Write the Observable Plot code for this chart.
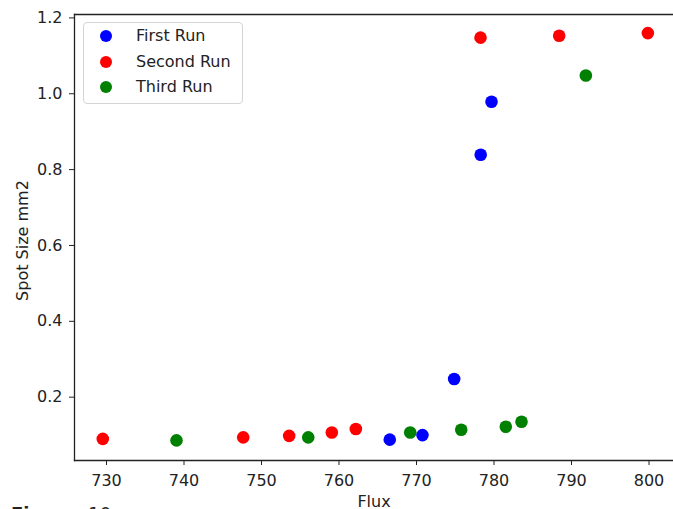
<!DOCTYPE html>
<html>
<head>
<meta charset="utf-8">
<script src="https://cdn.jsdelivr.net/npm/d3@7"></script>
<script src="https://cdn.jsdelivr.net/npm/@observablehq/plot@0.6"></script>
<style>
  html, body { margin: 0; padding: 0; background: #fff; overflow: hidden; }
  #wrap { position: relative; width: 673px; height: 509px; font-family: "DejaVu Sans", sans-serif; overflow: hidden; }
  #legend { position: absolute; left: 83px; top: 22px; width: 158px; height: 80px;
            border: 1px solid #d5d5d5; border-radius: 4px; background: rgba(255,255,255,0.8); }
  .row { position: absolute; left: 0; height: 20px; font-size: 16px; color: #222; }
  .row .dot { position: absolute; left: 16px; top: 4px; width: 12px; height: 12px; border-radius: 50%; }
  .row .lab { position: absolute; left: 52px; top: 0px; white-space: nowrap; line-height: 20px; }
  #fig { position: absolute; left: 11px; top: 503px; font-size: 18px; line-height: 22px; color: #222; white-space: nowrap; }
  #fig .num { margin-left: 12px; }
</style>
</head>
<body>
<div id="wrap"></div>
<script>
// Series names and colours
const seriesNames = ["First Run", "Second Run", "Third Run"];
const seriesColors = ["blue", "red", "green"];

// First Run
const firstFlux = [766.55, 770.77, 774.86, 778.28, 779.68];
const firstSpot = [0.088, 0.100, 0.248, 0.839, 0.979];

// Second Run
const secondFlux = [729.52, 747.64, 753.57, 759.07, 762.17, 778.26, 788.41, 799.85];
const secondSpot = [0.090, 0.094, 0.098, 0.107, 0.116, 1.148, 1.153, 1.160];

// Third Run
const thirdFlux = [739.03, 756.03, 769.19, 775.77, 781.52, 783.55, 791.85];
const thirdSpot = [0.086, 0.094, 0.107, 0.114, 0.122, 0.135, 1.048];

// Tick labels
const xTicks = [730, 740, 750, 760, 770, 780, 790, 800];
const yTicks = [0.2, 0.4, 0.6, 0.8, 1.0, 1.2];

const series = [
  {name: seriesNames[0], flux: firstFlux, spot: firstSpot},
  {name: seriesNames[1], flux: secondFlux, spot: secondSpot},
  {name: seriesNames[2], flux: thirdFlux, spot: thirdSpot}
];
const data = series.flatMap(s => s.flux.map((f, i) => ({run: s.name, flux: f, spot: s.spot[i]})));

const ink = "#222";
const chart = Plot.plot({
  width: 673,
  height: 509,
  marginTop: 14,
  marginBottom: 49,
  marginLeft: 74,
  marginRight: 0,
  style: {fontFamily: "DejaVu Sans, sans-serif", fontSize: "16px", color: ink, background: "white", overflow: "visible"},
  x: {domain: [725.87, 803.16]},
  y: {domain: [0.033, 1.209]},
  color: {domain: seriesNames, range: seriesColors},
  marks: [
    Plot.axisX({ticks: xTicks, tickFormat: d => d.toString(), tickSize: 5, tickPadding: 9, label: null, stroke: ink, fontSize: 16}),
    Plot.axisY({ticks: yTicks, tickFormat: d => d.toFixed(1), tickSize: 5, tickPadding: 7, label: null, stroke: ink, fontSize: 16}),
    Plot.frame({anchor: "left", stroke: ink, strokeWidth: 1.3}),
    Plot.frame({anchor: "bottom", stroke: ink, strokeWidth: 1.3}),
    Plot.frame({anchor: "top", stroke: ink, strokeWidth: 1.3}),
    Plot.dot(data, {x: "flux", y: "spot", fill: "run", r: 6.3, stroke: null}),
    Plot.text(["Flux"], {frameAnchor: "bottom", lineAnchor: "top", textAnchor: "middle", dy: 35, fontSize: 16, fill: ink}),
    Plot.text(["Spot Size mm2"], {frameAnchor: "left", textAnchor: "middle", lineAnchor: "middle", dx: -52, dy: 3, rotate: -90, fontSize: 16, fill: ink})
  ]
});

const wrap = document.getElementById("wrap");
wrap.appendChild(chart);

// Legend
const legend = document.createElement("div");
legend.id = "legend";
seriesNames.forEach((n, i) => {
  const row = document.createElement("div");
  row.className = "row";
  row.style.top = (3 + i * 25.5) + "px";
  const dot = document.createElement("span");
  dot.className = "dot";
  dot.style.background = seriesColors[i];
  const lab = document.createElement("span");
  lab.className = "lab";
  lab.textContent = n;
  row.appendChild(dot);
  row.appendChild(lab);
  legend.appendChild(row);
});
wrap.appendChild(legend);

const fig = document.createElement("div");
fig.id = "fig";
fig.innerHTML = "<b>Figure</b><span class=\"num\">10</span>";
wrap.appendChild(fig);
</script>
</body>
</html>
